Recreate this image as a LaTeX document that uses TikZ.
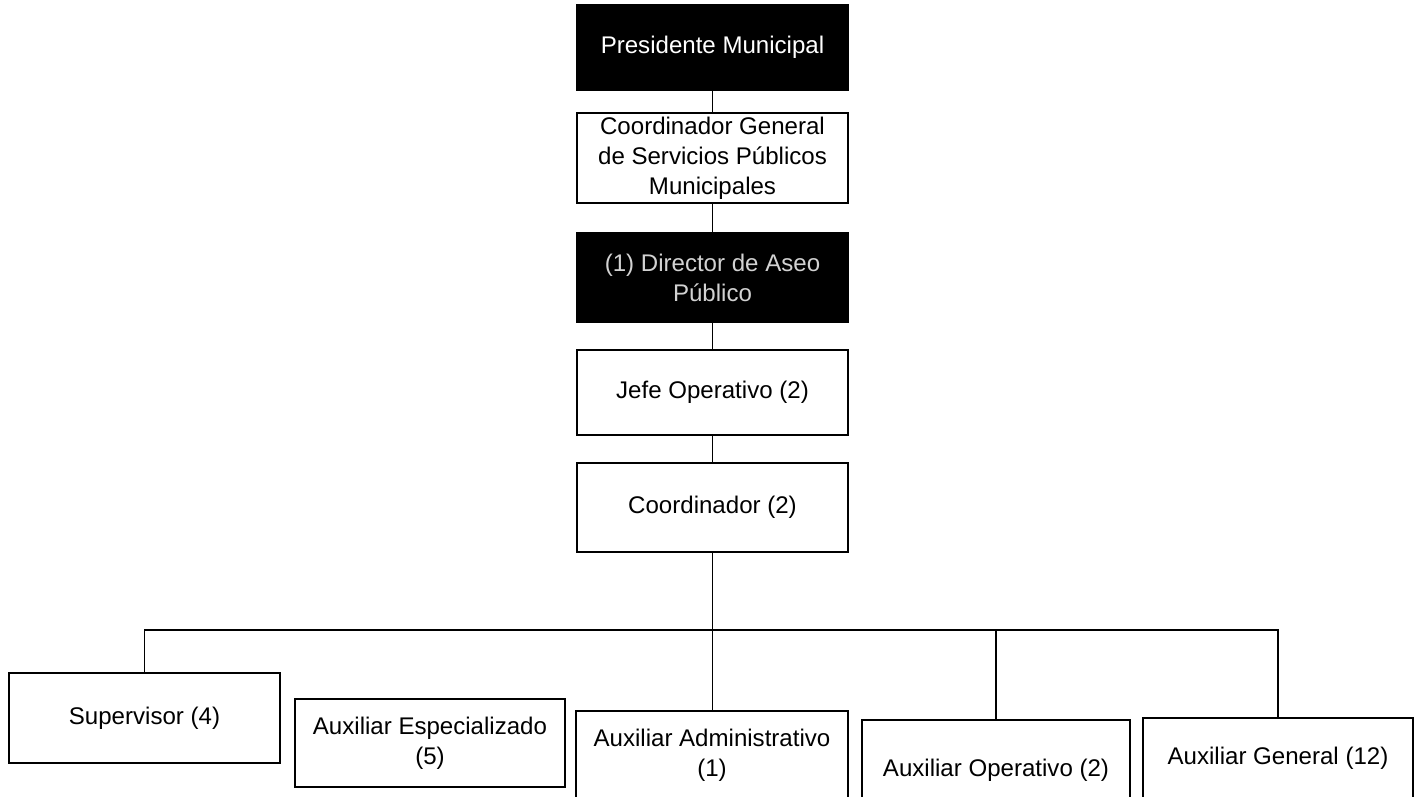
\documentclass[tikz,border=0pt]{standalone}
\usepackage{fontspec}
\setmainfont{Liberation Sans}
\usepackage{tikz}
\usetikzlibrary{calc,positioning}
\tikzset{
  cargo/.style={draw=black, line width=1.1pt, fill=white, align=center,
    inner sep=2pt, font=\fontsize{13.7}{17}\selectfont},
  cargonegro/.style={cargo, fill=black, text=white},
  linea/.style={line width=1.1pt}
}

\begin{document}
\begin{tikzpicture}[x=0.02cm,y=-0.02cm]
      \def\w{5.42cm}
      \useasboundingbox (0,0) rectangle (1418,796);
      \clip (0,0) rectangle (1418,796);
      %Column of boxes
      \node[cargonegro, minimum width=\w, minimum height=1.70cm] (pres) at (712.5,47.5) {Presidente Municipal};
      \node[cargo, minimum width=\w, minimum height=1.60cm] (cgen) at (712.5,158) {Coordinador General\\de Servicios Públicos\\Municipales};
      \node[cargonegro, text=gray!35, minimum width=\w, minimum height=1.78cm] (dir) at (712.5,277.5) {(1) Director de Aseo\\Público};
      \node[cargo, minimum width=\w, minimum height=1.70cm] (jefe) at (712.5,392.5) {Jefe Operativo (2)};
      \node[cargo, minimum width=\w, minimum height=1.78cm] (coord) at (712.5,507.5) {Coordinador (2)};
      %Bottom row
      \node[cargo, minimum width=\w, minimum height=1.80cm] (sup) at (144.5,718) {Supervisor (4)};
      \node[cargo, minimum width=5.40cm, minimum height=1.76cm] (esp) at (430,743) {Auxiliar Especializado\\(5)};
      \node[cargo, minimum width=5.44cm, minimum height=1.76cm] (adm) at (712,755) {Auxiliar Administrativo\\(1)};
      \node[cargo, minimum width=5.36cm, minimum height=2.00cm] (op) at (996,770) {Auxiliar Operativo (2)};
      \node[cargo, minimum width=5.40cm, minimum height=1.60cm] (gen) at (1278,758) {Auxiliar General (12)};
      %Draw lines
      \coordinate (barra) at (0,630);
      \draw[linea] (pres) -- (cgen);
      \draw[linea] (cgen) -- (dir);
      \draw[linea] (dir) -- (jefe);
      \draw[linea] (jefe) -- (coord);
      \draw[linea] (coord.south) -- (coord.south |- adm.north);
      \draw[linea] (sup.north) -- (sup.north |- barra) -- (gen.north |- barra) -- (gen.north);
      \draw[linea] (op.north |- barra) -- (op.north);
\end{tikzpicture}
\end{document}
